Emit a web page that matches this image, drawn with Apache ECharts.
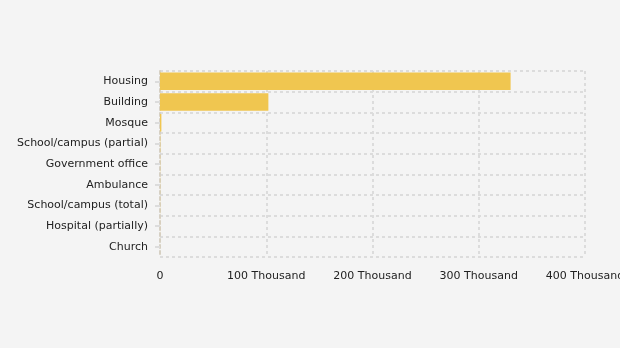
<!DOCTYPE html>
<html><head><meta charset="utf-8">
<script src="https://cdn.jsdelivr.net/npm/echarts@6/dist/echarts.min.js"></script>
<style>html,body{margin:0;padding:0;background:#f4f4f4}#c{width:620px;height:348px}</style>
</head><body><div id="c"></div>
<script>
const categories = ["Housing","Building","Mosque","School/campus (partial)","Government office","Ambulance","School/campus (total)","Hospital (partially)","Church"];
const values = [330000, 102000, 1300, 250, 150, 120, 100, 50, 10];
const xTickLabels = {0:"0",100000:"100 Thousand",200000:"200 Thousand",300000:"300 Thousand",400000:"400 Thousand"};

const chart = echarts.init(document.getElementById('c'), null, {renderer:'canvas'});
const font = "DejaVu Sans";
chart.setOption({
  backgroundColor:'#f4f4f4',
  animation:false,
  grid:{left:160,right:35,top:71,bottom:91,containLabel:false,outerBoundsMode:'none'},
  xAxis:{
    type:'value',min:0,max:400000,interval:100000,
    axisLine:{show:false},axisTick:{show:false},
    axisLabel:{color:'#222',fontFamily:font,fontSize:11,margin:14,
      formatter:v=>xTickLabels[v]!==undefined?xTickLabels[v]:String(v)},
    splitLine:{show:true,lineStyle:{color:'#dcdcdc',type:[3,3],width:2}}
  },
  yAxis:{
    type:'category',data:categories,inverse:true,
    axisLine:{show:true,lineStyle:{color:'#d6d0c4',type:[3,3],width:2}},
    axisTick:{show:true,alignWithLabel:true,length:5,lineStyle:{color:'#dcdcdc',width:2}},
    axisLabel:{color:'#222',fontFamily:font,fontSize:11,margin:12},
    splitLine:{show:true,lineStyle:{color:'#dcdcdc',type:[3,3],width:2}}
  },
  series:[{type:'bar',data:values,barWidth:'85%',itemStyle:{color:'#f0c650'}}]
});
</script></body></html>
